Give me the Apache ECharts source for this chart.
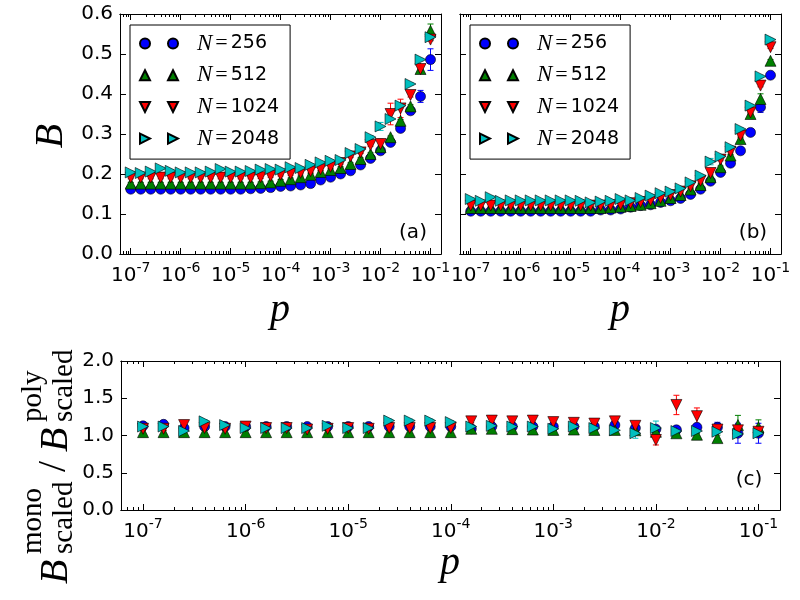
<!DOCTYPE html>
<html>
<head>
<meta charset="utf-8">
<script src="https://cdn.jsdelivr.net/npm/echarts@6/dist/echarts.min.js"></script>
<style>
  html, body { margin: 0; padding: 0; background: #fff; }
  #chart { width: 800px; height: 600px; }
</style>
</head>
<body>
<div id="chart"></div>
<script>
// p values as log10 exponents (0.2 decade steps)
const pExp = [-7, -6.8, -6.6, -6.4, -6.2, -6, -5.8, -5.6, -5.4, -5.2, -5, -4.8, -4.6, -4.4, -4.2, -4,
  -3.8, -3.6, -3.4, -3.2, -3, -2.8, -2.6, -2.4, -2.2, -2, -1.8, -1.6, -1.4, -1.2, -1];
const sizes = ['256', '512', '1024', '2048'];

// panel (a)
const a256 = [0.162, 0.162, 0.162, 0.162, 0.162, 0.162, 0.162, 0.162, 0.162, 0.162, 0.162, 0.162, 0.163, 0.164, 0.166, 0.169,
  0.170, 0.1725, 0.176, 0.185, 0.192, 0.200, 0.208, 0.2225, 0.239, 0.258, 0.279, 0.314, 0.358, 0.394, 0.486];
const a512 = [0.176, 0.176, 0.176, 0.176, 0.176, 0.176, 0.176, 0.176, 0.176, 0.176, 0.176, 0.176, 0.176, 0.177, 0.179, 0.183,
  0.187, 0.192, 0.198, 0.205, 0.210, 0.215, 0.225, 0.2375, 0.250, 0.267, 0.292, 0.333, 0.369, 0.4625, 0.558];
const a1024 = [0.191, 0.191, 0.191, 0.191, 0.191, 0.191, 0.191, 0.191, 0.191, 0.191, 0.191, 0.191, 0.191, 0.192, 0.195, 0.198,
  0.200, 0.203, 0.207, 0.212, 0.218, 0.2275, 0.244, 0.254, 0.2725, 0.275, 0.350, 0.364, 0.3975, 0.4625, 0.536];
const a2048 = [0.204, 0.2025, 0.206, 0.214, 0.208, 0.204, 0.204, 0.204, 0.206, 0.2125, 0.206, 0.206, 0.2075, 0.211, 0.2125, 0.211,
  0.217, 0.215, 0.223, 0.229, 0.233, 0.235, 0.2525, 0.2625, 0.292, 0.319, 0.3375, 0.371, 0.425, 0.486, 0.542];

// panel (b)
const b256 = [0.107, 0.107, 0.107, 0.107, 0.107, 0.107, 0.107, 0.107, 0.107, 0.107, 0.107, 0.107, 0.107, 0.110, 0.110, 0.1125,
  0.117, 0.121, 0.123, 0.129, 0.133, 0.139, 0.149, 0.162, 0.182, 0.204, 0.227, 0.258, 0.304, 0.367, 0.447];
const b512 = [0.115, 0.115, 0.115, 0.115, 0.115, 0.115, 0.115, 0.115, 0.115, 0.115, 0.115, 0.115, 0.115, 0.115, 0.116, 0.118,
  0.120, 0.123, 0.127, 0.133, 0.140, 0.1475, 0.161, 0.1725, 0.192, 0.217, 0.246, 0.2875, 0.350, 0.3875, 0.483];
const b1024 = [0.121, 0.121, 0.121, 0.121, 0.121, 0.121, 0.121, 0.121, 0.121, 0.121, 0.121, 0.121, 0.121, 0.121, 0.122, 0.124,
  0.127, 0.130, 0.134, 0.140, 0.1475, 0.156, 0.169, 0.183, 0.2025, 0.236, 0.256, 0.296, 0.354, 0.421, 0.517];
const b2048 = [0.1375, 0.133, 0.142, 0.133, 0.134, 0.134, 0.134, 0.134, 0.134, 0.134, 0.134, 0.133, 0.129, 0.131, 0.133, 0.1375,
  0.134, 0.140, 0.146, 0.152, 0.156, 0.164, 0.179, 0.196, 0.231, 0.244, 0.267, 0.3125, 0.371, 0.444, 0.536];

// panel (c)
const c256 = [1.13, 1.15, 1.10, 1.12, 1.12, 1.12, 1.12, 1.12, 1.12, 1.12, 1.12, 1.12, 1.12, 1.12, 1.12, 1.12,
  1.09, 1.12, 1.12, 1.12, 1.12, 1.12, 1.12, 1.14, 1.10, 1.085, 1.076, 1.11, 1.11, 1.03, 1.03];
const c512 = [1.045, 1.045, 1.045, 1.045, 1.045, 1.045, 1.045, 1.045, 1.045, 1.045, 1.045, 1.045, 1.045, 1.045, 1.045, 1.045,
  1.09, 1.09, 1.085, 1.08, 1.075, 1.08, 1.075, 1.075, 1.07, 1.05, 1.03, 1.01, 0.965, 1.14, 1.11];
const c1024 = [1.09, 1.09, 1.14, 1.10, 1.09, 1.12, 1.10, 1.10, 1.08, 1.09, 1.10, 1.09, 1.10, 1.10, 1.10, 1.10,
  1.19, 1.20, 1.19, 1.20, 1.18, 1.17, 1.16, 1.19, 1.13, 0.94, 1.41, 1.26, 1.08, 1.07, 1.05];
const c2048 = [1.12, 1.12, 1.06, 1.19, 1.14, 1.10, 1.10, 1.10, 1.10, 1.13, 1.10, 1.10, 1.20, 1.20, 1.20, 1.18,
  1.12, 1.13, 1.12, 1.12, 1.09, 1.12, 1.10, 1.07, 1.03, 1.10, 1.06, 1.06, 1.05, 1.02, 1.03];

// error bar half widths: default per panel, plus [index, halfWidth] where larger
const errBaseTop = 0.003;
const errBaseBottom = 0.02;
const errA256 = [[29, 0.015], [30, 0.027]];
const errA512 = [[28, 0.004], [29, 0.006], [30, 0.017]];
const errA1024 = [[25, 0.012], [26, 0.027], [27, 0.023], [28, 0.005], [29, 0.007]];
const errA2048 = [[24, 0.004], [25, 0.010], [30, 0.008]];
const errB256 = [[29, 0.013]];
const errB512 = [[29, 0.013]];
const errB1024 = [[28, 0.004]];
const errB2048 = [[24, 0.008]];
const errC256 = [[26, 0.03], [28, 0.067], [29, 0.134], [30, 0.134]];
const errC512 = [[28, 0.04], [29, 0.13], [30, 0.10]];
const errC1024 = [[24, 0.03], [25, 0.067], [26, 0.13], [27, 0.11]];
const errC2048 = [[24, 0.067], [25, 0.094]];

const decadeTicks = [-7, -6, -5, -4, -3, -2, -1];
const X_MIN = -7.215, X_MAX = -0.79;

const colors = ['#0000ff', '#007f00', '#ff0000', '#00bfbf'];
const symbols = ['circle', 'triangle', 'triangle', 'triangle'];
const rotates = [0, 0, 180, -90];
const symSizes = [10, 11, 11, 11];
const icons = [
  'path://M0,5A5,5,0,1,1,10,5A5,5,0,1,1,0,5ZM28,5A5,5,0,1,1,38,5A5,5,0,1,1,28,5Z',
  'path://M5,0L10,10L0,10ZM33,0L38,10L28,10Z',
  'path://M0,0L10,0L5,10ZM28,0L38,0L33,10Z',
  'path://M0,0L10,5L0,10ZM28,0L38,5L28,10Z'
];
const names = sizes.map(s => 'N=' + s);

const minorTicks = [];
for (let n = -8; n <= -1; n++) {
  for (let k = 2; k <= 9; k++) {
    const v = n + Math.log10(k);
    if (v > X_MIN && v < X_MAX) minorTicks.push(v);
  }
}

const font = 'DejaVu Sans';
const black = '#000';

function xAxesFor(gi) {
  const base = {
    type: 'value', gridIndex: gi, min: X_MIN, max: X_MAX,
    axisLine: { show: true, onZero: false, lineStyle: { color: black, width: 1 } },
    splitLine: { show: false }
  };
  const major = { show: true, inside: true, length: 6, customValues: decadeTicks, lineStyle: { color: black } };
  const minor = { show: true, inside: true, length: 3, customValues: minorTicks, lineStyle: { color: black } };
  return [
    Object.assign({}, base, {
      position: 'bottom', axisTick: major,
      axisLabel: {
        show: true, customValues: decadeTicks, margin: 7,
        formatter: v => '{a|10}{b|' + v + '}',
        rich: {
          a: { fontFamily: font, fontSize: 20, color: black, padding: [5, 0, 0, 0], verticalAlign: 'bottom' },
          b: { fontFamily: font, fontSize: 14, color: black, verticalAlign: 'top' }
        }
      }
    }),
    Object.assign({}, base, { position: 'bottom', axisTick: minor, axisLabel: { show: false } }),
    Object.assign({}, base, { position: 'top', axisTick: major, axisLabel: { show: false } }),
    Object.assign({}, base, { position: 'top', axisTick: minor, axisLabel: { show: false } })
  ];
}

function yAxesFor(gi, max, interval, labels) {
  const base = {
    type: 'value', gridIndex: gi, min: 0, max: max, interval: interval,
    axisLine: { show: true, onZero: false, lineStyle: { color: black, width: 1 } },
    axisTick: { show: true, inside: true, length: 6, lineStyle: { color: black } },
    splitLine: { show: false }
  };
  return [
    Object.assign({}, base, {
      position: 'left',
      axisLabel: { show: labels, margin: 7, color: black, fontFamily: font, fontSize: 20, formatter: v => v.toFixed(1) }
    }),
    Object.assign({}, base, { position: 'right', axisLabel: { show: false } })
  ];
}

function errData(vals, errs, baseErr) {
  const e = vals.map(() => baseErr);
  errs.forEach(([i, w]) => { e[i] = w; });
  return pExp.map((x, i) => [x, vals[i] - e[i], vals[i] + e[i]]);
}

function renderErr(params, api) {
  const x = api.value(0);
  const top = api.coord([x, api.value(2)]);
  const bot = api.coord([x, api.value(1)]);
  const w = 3;
  const style = { stroke: api.visual('color'), lineWidth: 1 };
  return {
    type: 'group',
    children: [
      { type: 'line', shape: { x1: top[0], y1: top[1], x2: bot[0], y2: bot[1] }, style },
      { type: 'line', shape: { x1: top[0] - w, y1: top[1], x2: top[0] + w, y2: top[1] }, style },
      { type: 'line', shape: { x1: bot[0] - w, y1: bot[1], x2: bot[0] + w, y2: bot[1] }, style }
    ]
  };
}

const panels = [
  { sets: [a256, a512, a1024, a2048], errs: [errA256, errA512, errA1024, errA2048], base: errBaseTop },
  { sets: [b256, b512, b1024, b2048], errs: [errB256, errB512, errB1024, errB2048], base: errBaseTop },
  { sets: [c256, c512, c1024, c2048], errs: [errC256, errC512, errC1024, errC2048], base: errBaseBottom }
];

const series = [];
panels.forEach((pn, gi) => {
  pn.sets.forEach((vals, k) => {
    series.push({
      type: 'custom', name: 'err' + gi + k, xAxisIndex: gi * 4, yAxisIndex: gi * 2,
      renderItem: renderErr, itemStyle: { color: colors[k] }, silent: true,
      encode: { x: 0, y: [1, 2] },
      data: errData(vals, pn.errs[k], pn.base)
    });
    series.push({
      type: 'scatter', name: names[k], xAxisIndex: gi * 4, yAxisIndex: gi * 2,
      symbol: symbols[k], symbolRotate: rotates[k], symbolSize: symSizes[k],
      itemStyle: { color: colors[k], borderColor: black, borderWidth: 0.6, opacity: 1 },
      data: pExp.map((x, i) => [x, vals[i]])
    });
  });
});

function legendAt(left) {
  return {
    left: left, top: 25, orient: 'vertical', selectedMode: false,
    itemWidth: 38, itemHeight: 10, itemGap: 8.7,
    padding: [7, 11, 9, 9],
    borderColor: black, borderWidth: 1, backgroundColor: '#fff',
    data: names.map((n, k) => ({ name: n, icon: icons[k], symbolRotate: 0 })),
    formatter: n => '{n|N}{e|=}{v|' + n.slice(2) + '}',
    textStyle: {
      rich: {
        n: { fontFamily: 'Liberation Serif', fontStyle: 'italic', fontSize: 23, color: black, lineHeight: 20, padding: [0, 0, 0, 14] },
        e: { fontFamily: 'Liberation Serif', fontSize: 22, color: black, lineHeight: 20, padding: [0, 3, 0, 3] },
        v: { fontFamily: font, fontSize: 19, color: black, lineHeight: 20 }
      }
    }
  };
}

const serifIt = 'italic 40px "Liberation Serif"';
const graphic = [
  { type: 'text', x: 51, y: 136, rotation: Math.PI / 2, style: { text: 'B', font: serifIt, fill: black, textAlign: 'center', textVerticalAlign: 'middle' } },
  { type: 'text', x: 280, y: 310, style: { text: 'p', font: serifIt, fill: black, textAlign: 'center', textVerticalAlign: 'middle' } },
  { type: 'text', x: 620, y: 310, style: { text: 'p', font: serifIt, fill: black, textAlign: 'center', textVerticalAlign: 'middle' } },
  { type: 'text', x: 450, y: 563, style: { text: 'p', font: serifIt, fill: black, textAlign: 'center', textVerticalAlign: 'middle' } },
  { type: 'text', x: 413, y: 233, style: { text: '(a)', font: '20px "DejaVu Sans"', fill: black, textAlign: 'center', textVerticalAlign: 'middle' } },
  { type: 'text', x: 753, y: 233, style: { text: '(b)', font: '20px "DejaVu Sans"', fill: black, textAlign: 'center', textVerticalAlign: 'middle' } },
  { type: 'text', x: 749, y: 480, style: { text: '(c)', font: '20px "DejaVu Sans"', fill: black, textAlign: 'center', textVerticalAlign: 'middle' } },
  {
    type: 'group', x: 58, y: 584, rotation: Math.PI / 2,
    children: [
      { type: 'text', x: 0, y: -2, style: { text: 'B', font: serifIt, fill: black, textVerticalAlign: 'middle' } },
      { type: 'text', x: 30, y: -25, style: { text: 'mono', font: '29px "Liberation Serif"', fill: black, textVerticalAlign: 'middle' } },
      { type: 'text', x: 30, y: 6, style: { text: 'scaled', font: '29px "Liberation Serif"', fill: black, textVerticalAlign: 'middle' } },
      { type: 'text', x: 112, y: -4, style: { text: '/', font: '40px "Liberation Serif"', fill: black, textVerticalAlign: 'middle' } },
      { type: 'text', x: 132, y: -2, style: { text: 'B', font: serifIt, fill: black, textVerticalAlign: 'middle' } },
      { type: 'text', x: 162, y: -25, style: { text: 'poly', font: '29px "Liberation Serif"', fill: black, textVerticalAlign: 'middle' } },
      { type: 'text', x: 162, y: 6, style: { text: 'scaled', font: '29px "Liberation Serif"', fill: black, textVerticalAlign: 'middle' } }
    ]
  }
];

const chart = echarts.init(document.getElementById('chart'));
chart.setOption({
  animation: false,
  backgroundColor: '#fff',
  grid: [
    { left: 120, top: 14, width: 321, height: 240 },
    { left: 460, top: 14, width: 321, height: 240 },
    { left: 121, top: 361, width: 659, height: 149 }
  ],
  xAxis: [].concat(xAxesFor(0), xAxesFor(1), xAxesFor(2)),
  yAxis: [].concat(yAxesFor(0, 0.6, 0.1, true), yAxesFor(1, 0.6, 0.1, false), yAxesFor(2, 2, 0.5, true)),
  legend: [legendAt(130), legendAt(470)],
  graphic: graphic,
  series: series
});
</script>
</body>
</html>
